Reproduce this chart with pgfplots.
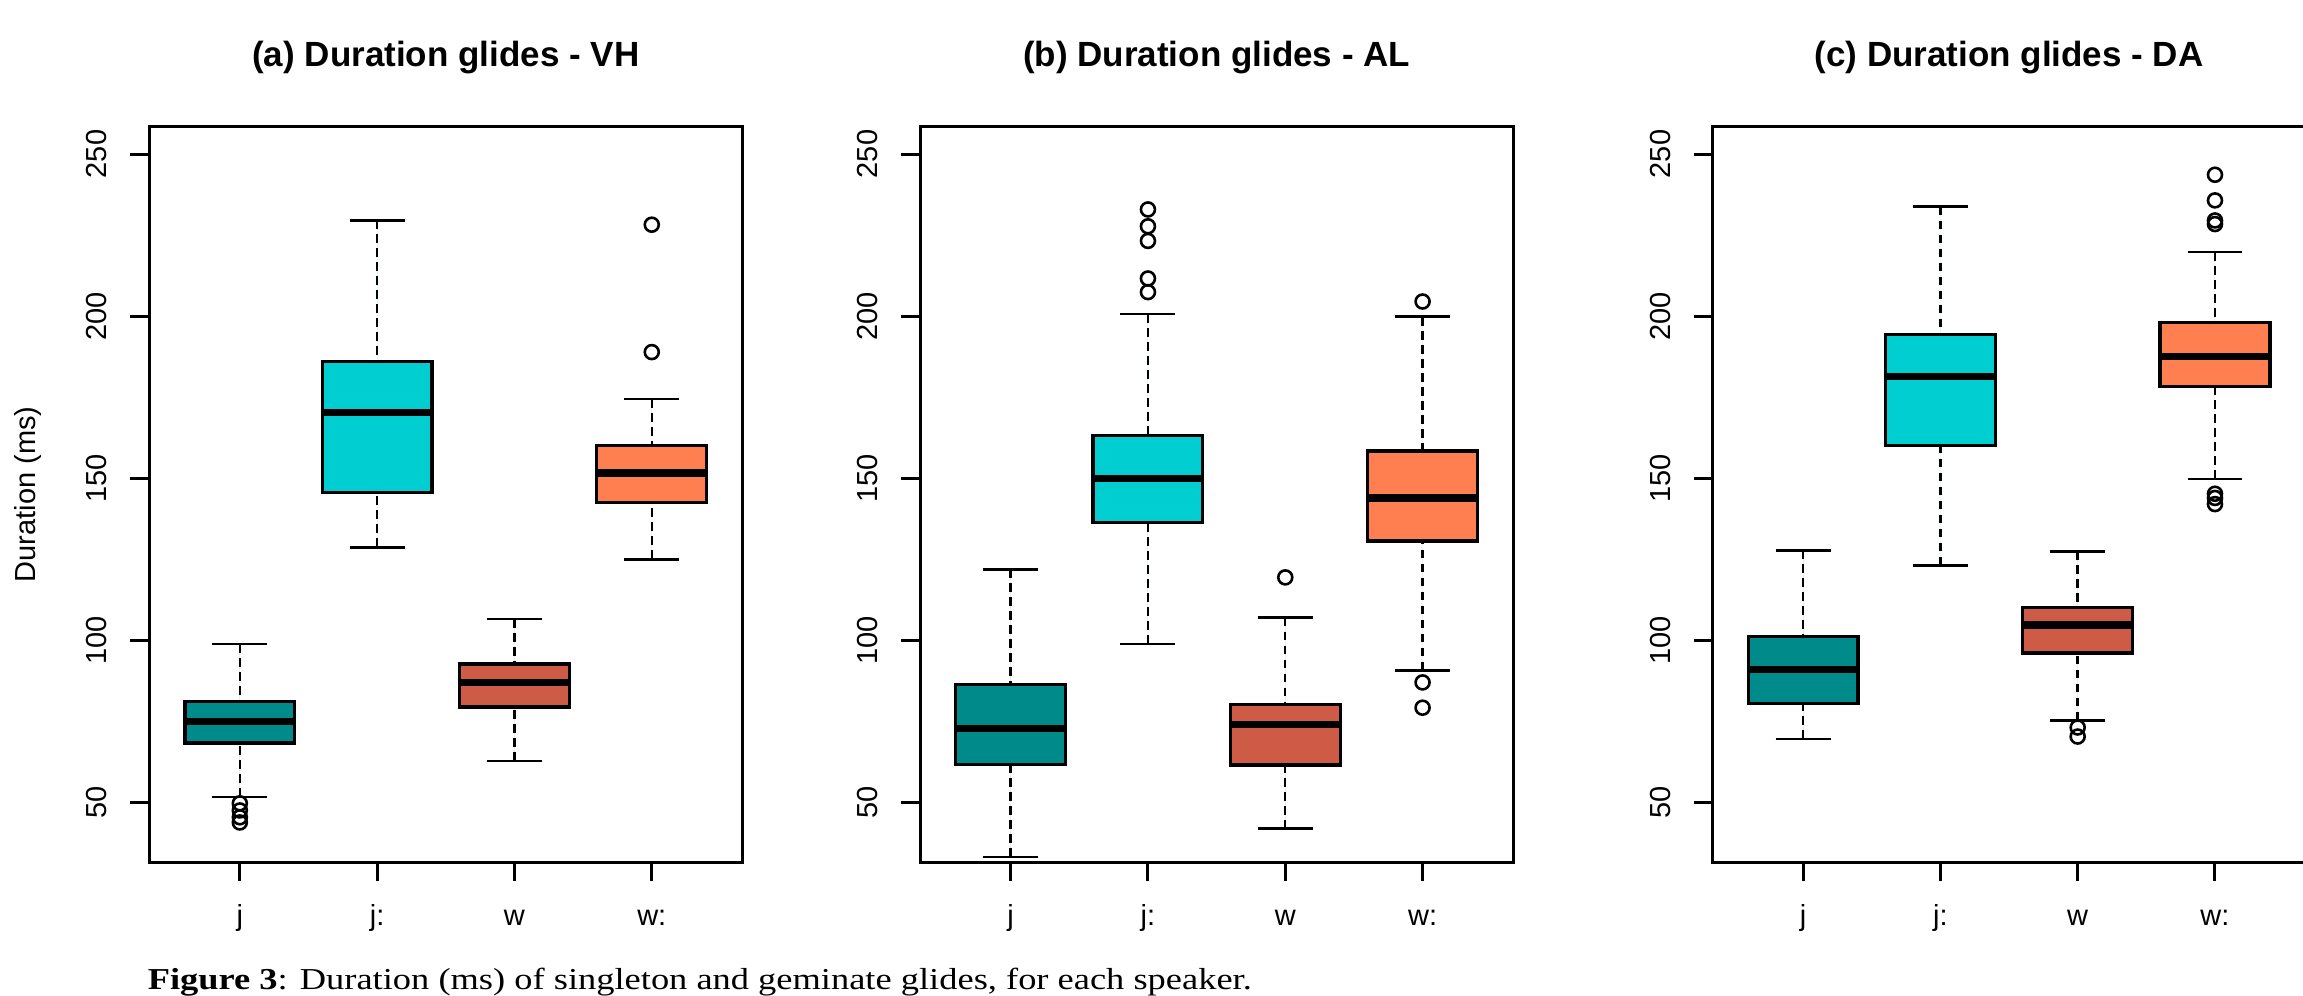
\documentclass[border=0pt]{standalone}
\usepackage{pgfplots}
\pgfplotsset{compat=1.18}
\usepgfplotslibrary{statistics}
\usepackage{graphicx}
\usepackage{fontspec}
\setmainfont{Liberation Sans}
\newfontfamily\capfont{Liberation Serif}
\definecolor{cj}{HTML}{008B8B}
\definecolor{cjj}{HTML}{00CED1}
\definecolor{cw}{HTML}{CD5B45}
\definecolor{cww}{HTML}{FF7F50}
\newcommand\tickfont{\fontsize{7.25bp}{8.5bp}\selectfont}
\newcommand\titlefont{\fontsize{8.75bp}{10bp}\selectfont\bfseries}
\pgfplotsset{
  myaxis/.style={
    scale only axis, width=148.3bp, height=183.8bp,
    anchor=south west,
    xmin=0.34, xmax=4.66, ymin=31.6, ymax=258.4,
    axis line style={line width=0.75bp},
    every tick/.style={black, line width=0.75bp},
    major tick length=4.7bp, tick align=outside, tick pos=left,
    xtick={1,2,3,4}, xticklabels={j,j:,w,w:},
    ytick={50,100,150,200,250},
    ticklabel style={font=\tickfont},
    xticklabel style={anchor=base},
    xticklabel shift=11.25bp,
    yticklabel style={rotate=90, anchor=base},
    yticklabel shift=5.9bp,
    /pgf/number format/assume math mode=true,
    title style={font=\titlefont, at={(axis description cs:0.5,1)}, anchor=base, yshift=9bp},
    clip=false,
    boxplot/draw direction=y,
    boxplot/every median/.style={line width=1.8bp},
    boxplot/every box/.style={line width=0.8bp},
    boxplot/draw/lower whisker/.code={
      \draw[line width=0.6bp, dash pattern=on 2.2bp off 1.3bp]
        (boxplot box cs:\pgfplotsboxplotvalue{lower whisker},0.5)
        -- (boxplot box cs:\pgfplotsboxplotvalue{lower quartile},0.5);
      \draw[line width=0.65bp, solid]
        (boxplot whisker cs:\pgfplotsboxplotvalue{lower whisker},0)
        -- (boxplot whisker cs:\pgfplotsboxplotvalue{lower whisker},1);
    },
    boxplot/draw/upper whisker/.code={
      \draw[line width=0.6bp, dash pattern=on 2.2bp off 1.3bp]
        (boxplot box cs:\pgfplotsboxplotvalue{upper whisker},0.5)
        -- (boxplot box cs:\pgfplotsboxplotvalue{upper quartile},0.5);
      \draw[line width=0.65bp, solid]
        (boxplot whisker cs:\pgfplotsboxplotvalue{upper whisker},0)
        -- (boxplot whisker cs:\pgfplotsboxplotvalue{upper whisker},1);
    },
  },
  bx/.style={draw=black, fill=#1, line width=0.8bp,
    mark=o, mark size=1.75bp,
    mark options={solid, draw=black, fill=none, line width=0.65bp}},
}
\begin{document}
\begin{tikzpicture}
\path[use as bounding box] (0,0) rectangle (575.75bp,249bp);
% ---------------- (a) VH
\begin{axis}[myaxis, at={(37.3bp,33.5bp)},
  title={(a) Duration glides - VH},
  ylabel={Duration (ms)},
  ylabel style={font=\tickfont, at={(axis description cs:-0.2046,0.5)}, anchor=center, rotate=0}]
\addplot+[bx=cj, boxplot prepared={draw position=1, box extend=0.8, whisker extend=0.4,
  lower whisker=51.6, lower quartile=68.3, median=75.0, upper quartile=81.0, upper whisker=98.8}]
  coordinates {(0,49.7) (0,47.5) (0,45.4) (0,43.8)};
\addplot+[bx=cjj, boxplot prepared={draw position=2, box extend=0.8, whisker extend=0.4,
  lower whisker=128.7, lower quartile=145.5, median=170.2, upper quartile=186.1, upper whisker=229.5}]
  coordinates {};
\addplot+[bx=cw, boxplot prepared={draw position=3, box extend=0.8, whisker extend=0.4,
  lower whisker=62.7, lower quartile=79.4, median=86.9, upper quartile=92.7, upper whisker=106.6}]
  coordinates {};
\addplot+[bx=cww, boxplot prepared={draw position=4, box extend=0.8, whisker extend=0.4,
  lower whisker=125.0, lower quartile=142.6, median=151.6, upper quartile=160.2, upper whisker=174.4}]
  coordinates {(0,188.9) (0,228.2)};
\end{axis}
% ---------------- (b) AL
\begin{axis}[myaxis, at={(230bp,33.5bp)},
  title={(b) Duration glides - AL}]
\addplot+[bx=cj, boxplot prepared={draw position=1, box extend=0.8, whisker extend=0.4,
  lower whisker=33.2, lower quartile=61.7, median=72.8, upper quartile=86.3, upper whisker=121.9}]
  coordinates {};
\addplot+[bx=cjj, boxplot prepared={draw position=2, box extend=0.8, whisker extend=0.4,
  lower whisker=98.8, lower quartile=136.3, median=150.0, upper quartile=163.1, upper whisker=200.6}]
  coordinates {(0,207.4) (0,211.6) (0,223.2) (0,227.7) (0,232.9)};
\addplot+[bx=cw, boxplot prepared={draw position=3, box extend=0.8, whisker extend=0.4,
  lower whisker=41.9, lower quartile=61.5, median=74.1, upper quartile=80.3, upper whisker=107.0}]
  coordinates {(0,119.4)};
\addplot+[bx=cww, boxplot prepared={draw position=4, box extend=0.8, whisker extend=0.4,
  lower whisker=90.7, lower quartile=130.6, median=143.9, upper quartile=158.4, upper whisker=199.8}]
  coordinates {(0,204.5) (0,87.0) (0,79.2)};
\end{axis}
% ---------------- (c) DA
\begin{axis}[myaxis, at={(428.1bp,33.5bp)},
  title={(c) Duration glides - DA}]
\addplot+[bx=cj, boxplot prepared={draw position=1, box extend=0.8, whisker extend=0.4,
  lower whisker=69.5, lower quartile=80.5, median=91.1, upper quartile=101.1, upper whisker=127.7}]
  coordinates {};
\addplot+[bx=cjj, boxplot prepared={draw position=2, box extend=0.8, whisker extend=0.4,
  lower whisker=123.1, lower quartile=160.2, median=181.3, upper quartile=194.3, upper whisker=233.8}]
  coordinates {};
\addplot+[bx=cw, boxplot prepared={draw position=3, box extend=0.8, whisker extend=0.4,
  lower whisker=75.3, lower quartile=96.1, median=104.7, upper quartile=110.0, upper whisker=127.4}]
  coordinates {(0,73.1) (0,70.3)};
\addplot+[bx=cww, boxplot prepared={draw position=4, box extend=0.8, whisker extend=0.4,
  lower whisker=149.8, lower quartile=178.4, median=187.5, upper quartile=198.0, upper whisker=219.8}]
  coordinates {(0,243.6) (0,235.7) (0,229.5) (0,228.4) (0,145.2) (0,143.9) (0,142.0)};
\end{axis}
\node[anchor=base west, inner sep=0pt] at (36.75bp,1.5bp)
  {\resizebox{276bp}{\height}{\capfont\fontsize{7.6bp}{9bp}\selectfont\textbf{Figure 3}: Duration (ms) of singleton and geminate glides, for each speaker.}};
\end{tikzpicture}
\end{document}
